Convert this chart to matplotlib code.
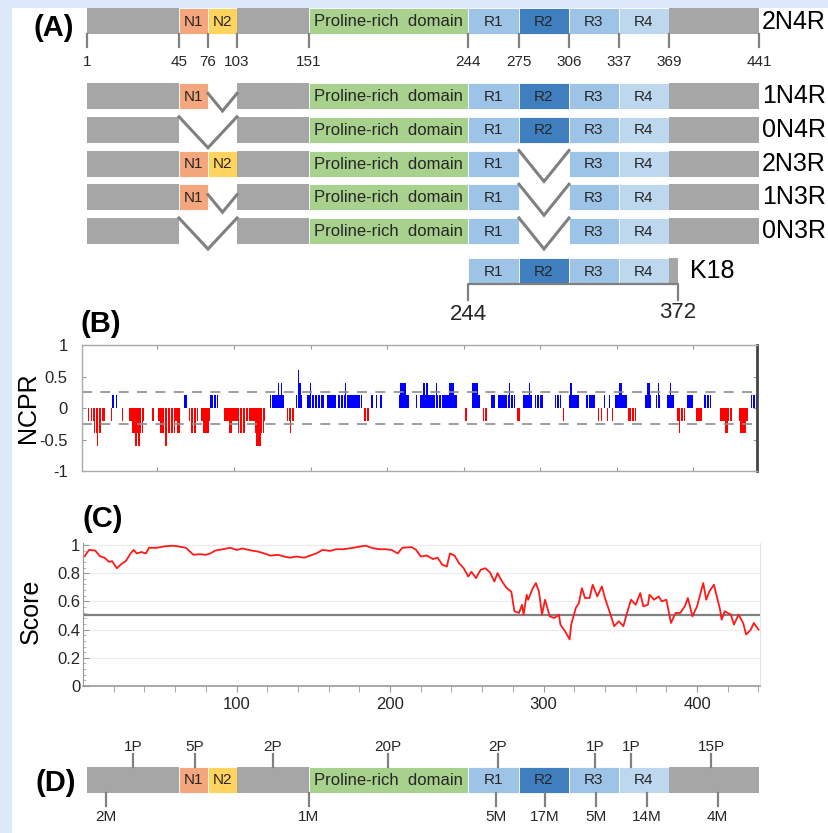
import matplotlib
matplotlib.use('Agg')
import matplotlib.pyplot as plt
from matplotlib.patches import Rectangle
import numpy as np

plt.rcParams['font.family'] = ['Liberation Sans', 'DejaVu Sans']

#%% Données

# domaines de tau (numéros de résidus)
dom_edges = [1, 45, 76, 103, 151, 244, 275, 306, 337, 369, 441]
dom_names = ['', 'N1', 'N2', '', 'Proline-rich  domain', 'R1', 'R2', 'R3', 'R4', '']
dom_colors = ['#a6a6a6', '#f4a77c', '#ffd45e', '#a6a6a6', '#a9d18e',
              '#9dc3e6', '#3f7fbf', '#9dc3e6', '#bdd7ee', '#a6a6a6']

# isoformes et domaines absents
iso_names = ['1N4R', '0N4R', '2N3R', '1N3R', '0N3R']
iso_skip = [['N2'], ['N1', 'N2'], ['R2'], ['N2', 'R2'], ['N1', 'N2', 'R2']]

# fragment K18
k18_range = [244, 372]

# sites P / M (panneau D)
p_pos = [23, 62, 127, 197, 262, 322, 345, 403]
p_lab = ['1P', '5P', '2P', '20P', '2P', '1P', '1P', '15P']
m_pos = [10, 151, 261, 291, 323, 355, 408]
m_lab = ['2M', '1M', '5M', '17M', '5M', '14M', '4M']

# NCPR par blocs (debut, fin, valeur), appliques dans l'ordre
ncpr_start = [5, 7, 9, 11, 20, 21, 23, 27, 32, 34, 36, 38, 47, 51, 52, 63, 55,
              68, 71, 72, 79, 80, 85, 94, 97, 103, 114, 115, 124, 129, 131,
              135, 137, 141, 142, 142, 148, 150, 161, 168, 173, 185, 190, 193,
              196, 208, 209, 219, 222, 224, 226, 232, 241, 251, 256, 256, 263,
              268, 273, 280, 285, 289, 293, 297, 310, 315, 319, 320, 330, 338,
              340, 342, 344, 345, 347, 349, 352, 358, 369, 370, 376, 377, 383,
              385, 390, 391, 396, 402, 407, 418, 421, 430, 431, 438]
ncpr_end = [5, 15, 13, 11, 20, 21, 23, 27, 41, 40, 36, 38, 47, 64, 61, 64, 56,
            69, 76, 75, 84, 83, 89, 120, 98, 107, 119, 117, 132, 129, 131,
            139, 137, 144, 143, 142, 158, 150, 166, 183, 173, 188, 190, 193,
            196, 214, 212, 219, 245, 224, 226, 232, 243, 252, 260, 259, 265,
            270, 283, 280, 286, 294, 293, 301, 313, 315, 325, 320, 335, 338,
            340, 342, 344, 345, 347, 356, 353, 362, 372, 371, 378, 377, 387,
            385, 394, 391, 399, 405, 411, 425, 422, 435, 434, 441]
ncpr_value = [-.2, -.2, -.4, -.6, -.2, .2, .2, -.2, -.2, -.4, -.6, -.6, -.2,
              -.2, -.4, -.4, -.6, .2, -.2, -.4, -.2, -.4, .2, -.2, -.4, -.4,
              -.4, -.6, .2, .4, .4, -.2, -.4, .2, .4, .6, .2, .4, .2, .2, .4,
              -.2, .2, .2, .2, .2, .4, .2, .2, .4, .4, .4, .4, -.2, .2, .4,
              -.2, .2, .2, .4, -.2, .2, .4, .2, .2, -.2, .2, .4, .2, -.2, -.2,
              .2, -.2, .2, -.2, .2, .4, -.2, .2, .4, .2, .4, .2, .4, -.2, -.4,
              .2, -.2, .2, -.2, -.4, -.2, -.4, .2]

# score (panneau C)
score_res = [1, 4, 8, 11, 14, 17, 19, 22, 25, 28,
             31, 33, 35, 38, 41, 43, 48, 53, 58, 62,
             67, 72, 76, 80, 83, 86, 91, 96, 100, 104,
             110, 114, 118, 122, 127, 131, 135, 139, 144, 148,
             152, 156, 161, 165, 170, 176, 180, 184, 189, 193,
             197, 201, 205, 208, 214, 217, 220, 224, 228, 231,
             234, 237, 239, 242, 245, 248, 251, 253, 256, 259,
             262, 265, 268, 270, 273, 276, 279, 281, 284, 286,
             287, 289, 290, 293, 295, 297, 299, 301, 304, 307,
             310, 311, 314, 317, 318, 321, 323, 325, 327, 330,
             332, 335, 338, 340, 344, 346, 349, 352, 355, 357,
             360, 363, 365, 368, 369, 372, 375, 377, 380, 383,
             386, 389, 392, 394, 397, 400, 404, 406, 408, 411,
             415, 416, 418, 422, 424, 427, 430, 432, 435, 437, 440]
score_val = [0.92, 0.965, 0.96, 0.92, 0.91, 0.88, 0.885, 0.835, 0.865, 0.887,
             0.94, 0.965, 0.94, 0.95, 0.94, 0.98, 0.98, 0.99, 0.995, 0.99,
             0.98, 0.93, 0.935, 0.93, 0.94, 0.96, 0.97, 0.98, 0.965, 0.975,
             0.96, 0.953, 0.94, 0.925, 0.93, 0.918, 0.91, 0.918, 0.91, 0.925,
             0.94, 0.965, 0.958, 0.97, 0.97, 0.98, 0.988, 0.995, 0.977, 0.97,
             0.97, 0.965, 0.94, 0.98, 0.985, 0.965, 0.918, 0.925, 0.90, 0.91,
             0.86, 0.847, 0.94, 0.925, 0.87, 0.835, 0.776, 0.81, 0.765, 0.824,
             0.835, 0.807, 0.741, 0.80, 0.741, 0.694, 0.67, 0.53, 0.518, 0.576,
             0.506, 0.647, 0.612, 0.694, 0.73, 0.67, 0.506, 0.612, 0.494, 0.482,
             0.506, 0.435, 0.388, 0.33, 0.435, 0.553, 0.588, 0.694, 0.624, 0.624,
             0.718, 0.635, 0.706, 0.624, 0.494, 0.424, 0.459, 0.424, 0.541, 0.612,
             0.576, 0.659, 0.565, 0.576, 0.647, 0.612, 0.635, 0.60, 0.612, 0.447,
             0.518, 0.518, 0.565, 0.624, 0.494, 0.565, 0.73, 0.612, 0.67, 0.718,
             0.541, 0.47, 0.53, 0.506, 0.435, 0.506, 0.447, 0.365, 0.40, 0.447, 0.40]

#%% Mise en page (pixels)
W, H = 829, 833
# position des bornes de domaines sur le schema (pas a l'echelle)
scheme_px = [87, 179, 208, 237, 309, 468, 519, 569, 619, 669, 759]
BAR_H = 26
GREY_LINE = '#808080'
TXT = '#262626'


def sx(res):
    return np.interp(res, dom_edges, scheme_px)


def dessinerBarre(ax, top, skip=(), doms=None, end=None, tail=0):
    # dessine une proteine a partir du haut "top" (en pixels)
    if doms is None:
        doms = range(len(dom_names))
    for i in doms:
        name = dom_names[i]
        if name in skip:
            continue
        a = dom_edges[i]
        b = dom_edges[i + 1] if end is None else min(dom_edges[i + 1], end)
        x0, x1 = sx(a), sx(b)
        if not name:
            x1 += tail
        ec = 'white' if name else 'none'
        ax.add_patch(Rectangle((x0, top), x1 - x0, BAR_H, facecolor=dom_colors[i],
                               edgecolor=ec, linewidth=0.6))
        if name:
            fs = 12 if 'Proline' in name else 11
            ax.text((x0 + x1) / 2, top + BAR_H / 2 + 0.5, name, ha='center', va='center',
                    fontsize=fs, color=TXT)
    # connecteurs en V pour les exons absents
    idx = [dom_names.index(s) for s in skip]
    groups = []
    for i in sorted(idx):
        if groups and groups[-1][1] == i - 1:
            groups[-1][1] = i
        else:
            groups.append([i, i])
    for g0, g1 in groups:
        xa, xb = sx(dom_edges[g0]), sx(dom_edges[g1 + 1])
        if xb - xa < 40:
            ya, yb = top + 0.4 * BAR_H, top + BAR_H + 2
        else:
            ya, yb = top, top + BAR_H + 5
        ax.plot([xa, (xa + xb) / 2, xb], [ya, yb, ya], color=GREY_LINE, lw=2.2,
                solid_joinstyle='miter')


fig = plt.figure(figsize=(W / 100, H / 100), dpi=100, facecolor='#dde9f8')
ax0 = fig.add_axes([0, 0, 1, 1])
ax0.set_xlim(0, W)
ax0.set_ylim(H, 0)
ax0.axis('off')
ax0.add_patch(Rectangle((12, 7.5), W, H, facecolor='white', edgecolor='none'))

#%% (A)
top0 = 8
dessinerBarre(ax0, top0)
for e in dom_edges:
    ax0.plot([sx(e), sx(e)], [top0 + BAR_H, top0 + BAR_H + 13], color=GREY_LINE, lw=1.6)
    ax0.text(sx(e), top0 + BAR_H + 28, str(e), ha='center', va='center', fontsize=11, color=TXT)
ax0.text(762, top0 + BAR_H / 2 + 1, '2N4R', ha='left', va='center', fontsize=18, color='black')

for k, (nm, sk) in enumerate(zip(iso_names, iso_skip)):
    top = 83 + k * 33.75
    dessinerBarre(ax0, top, sk)
    ax0.text(762, top + BAR_H / 2, nm, ha='left', va='center', fontsize=18, color='black')

# K18
topk = 258
dessinerBarre(ax0, topk, doms=range(5, 10), end=k18_range[1], tail=5)
xk0, xk1 = sx(k18_range[0]), sx(k18_range[1]) + 5
ax0.plot([xk0, xk0, xk1, xk1], [topk + BAR_H + 16, topk + BAR_H, topk + BAR_H, topk + BAR_H + 16],
         color=GREY_LINE, lw=1.6)
ax0.text(xk0, topk + BAR_H + 30, str(k18_range[0]), ha='center', va='center', fontsize=16, color=TXT)
ax0.text(xk1, topk + BAR_H + 28, str(k18_range[1]), ha='center', va='center', fontsize=16, color=TXT)
ax0.text(690, topk + BAR_H / 2, 'K18', ha='left', va='center', fontsize=18, color='black')

#%% (D)
topd = 767
dessinerBarre(ax0, topd)
for p, lab in zip(p_pos, p_lab):
    ax0.plot([sx(p), sx(p)], [topd, topd - 13], color=GREY_LINE, lw=1.6)
    ax0.text(sx(p), topd - 20, lab, ha='center', va='center', fontsize=11, color=TXT)
for m, lab in zip(m_pos, m_lab):
    ax0.plot([sx(m), sx(m)], [topd + BAR_H, topd + BAR_H + 13], color=GREY_LINE, lw=1.6)
    ax0.text(sx(m), topd + BAR_H + 24, lab, ha='center', va='center', fontsize=11, color=TXT)

# lettres des panneaux
for lab, (x, y) in zip(['(A)', '(B)', '(C)', '(D)'], [(54, 28), (101, 324), (103, 519), (56, 783)]):
    ax0.text(x, y, lab, ha='center', va='center', fontsize=21, fontweight='bold', color='black')

#%% (B) NCPR
residues = np.arange(1, 442)
ncpr = np.zeros(len(residues))
for s, e, v in zip(ncpr_start, ncpr_end, ncpr_value):
    ncpr[s - 1:e] = v

axB = fig.add_axes([81.7 / W, 1 - 471 / H, (757 - 81.7) / W, (471 - 345) / H])
cols = np.where(ncpr > 0, '#0000ff', '#ff0000')
axB.bar(residues, ncpr, width=0.85, color=cols, linewidth=0)
for yv in [0.25, -0.25]:
    axB.axhline(yv, color='#8c8c8c', lw=1.2, linestyle=(0, (6, 5)))
axB.set_xlim(0.5, 441.5)
axB.set_ylim(-1, 1)
axB.set_xticks(np.arange(50, 441, 50))
axB.set_xticklabels([])
axB.set_yticks([-1, -0.5, 0, 0.5, 1])
axB.set_yticklabels(['-1', '-0.5', '0', '0.5', '1'])
axB.tick_params(axis='x', direction='in', top=True, bottom=True, length=3, color='#999999')
axB.tick_params(axis='y', direction='in', left=True, right=True, length=3, color='#999999',
                labelsize=12, pad=10, labelcolor=TXT)
for sp in ['top', 'bottom', 'left']:
    axB.spines[sp].set_color('#aaaaaa')
    axB.spines[sp].set_linewidth(1.0)
axB.spines['right'].set_color('#444444')
axB.spines['right'].set_linewidth(2.0)
ax0.text(28, 408, 'NCPR', rotation=90, ha='center', va='center', fontsize=18, color='black')

#%% (C) Score
axC = fig.add_axes([83 / W, 1 - 686 / H, (760 - 83) / W, (686 - 543) / H])
for g in np.arange(0.2, 1.01, 0.2):
    axC.axhline(g, color='#ececec', lw=0.9, zorder=0)
axC.axhline(0.5, color='#808080', lw=1.6, zorder=1)
axC.plot(score_res, score_val, color='#ff1a1a', lw=1.3, zorder=2)
axC.set_xlim(0, 441)
axC.set_ylim(0, 1.014)
axC.set_xticks([100, 200, 300, 400])
axC.set_xticks(np.arange(20, 441, 20), minor=True)
axC.set_yticks(np.arange(0, 1.01, 0.2))
axC.set_yticklabels(['0', '0.2', '0.4', '0.6', '0.8', '1'])
axC.set_yticks(np.arange(0, 1.01, 0.04), minor=True)
axC.tick_params(axis='x', which='both', direction='out', length=4, color='#999999',
                labelsize=12, pad=4, labelcolor=TXT)
axC.tick_params(axis='y', which='major', direction='in', length=4, color='#999999',
                labelsize=12, pad=2, labelcolor=TXT)
axC.tick_params(axis='y', which='minor', direction='in', length=2, color='#aaaaaa')
axC.spines['top'].set_visible(False)
axC.spines['right'].set_color('#e6e6e6')
axC.spines['left'].set_color('#999999')
axC.spines['bottom'].set_color('#999999')
axC.spines['bottom'].set_linewidth(1.2)
ax0.text(31, 611, 'Score', rotation=90, ha='center', va='center', fontsize=18, color='black')

fig.savefig('out.png', dpi=100, facecolor=fig.get_facecolor())
